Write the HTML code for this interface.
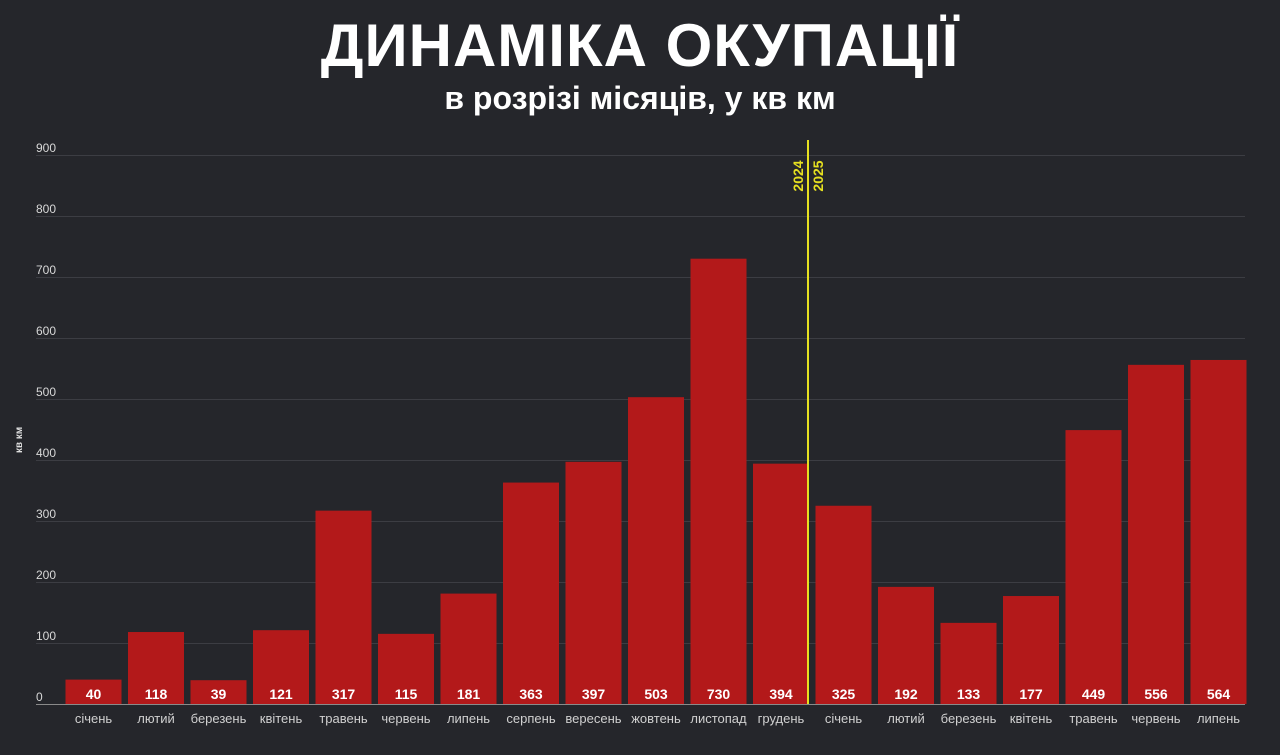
<!DOCTYPE html>
<html><head><meta charset="utf-8"><style>
html,body{margin:0;padding:0;background:#25262b;}
body{width:1280px;height:755px;position:relative;overflow:hidden;font-family:"Liberation Sans","DejaVu Sans",sans-serif;}
.t{position:absolute;left:0;width:1280px;text-align:center;color:#fff;font-weight:bold;}
</style></head><body>
<div class="t" style="top:10px;font-size:60px;letter-spacing:1px;line-height:72px;">ДИНАМІКА ОКУПАЦІЇ</div>
<div class="t" style="top:79px;font-size:32px;line-height:38px;">в розрізі місяців, у кв км</div>
<svg width="1280" height="755" style="position:absolute;left:0;top:0" font-family="Liberation Sans, sans-serif">
<g stroke="#3c3d43" stroke-width="1">
<line x1="36" x2="1245" y1="155.5" y2="155.5"/><line x1="36" x2="1245" y1="216.5" y2="216.5"/>
<line x1="36" x2="1245" y1="277.5" y2="277.5"/><line x1="36" x2="1245" y1="338.5" y2="338.5"/>
<line x1="36" x2="1245" y1="399.5" y2="399.5"/><line x1="36" x2="1245" y1="460.5" y2="460.5"/>
<line x1="36" x2="1245" y1="521.5" y2="521.5"/><line x1="36" x2="1245" y1="582.5" y2="582.5"/>
<line x1="36" x2="1245" y1="643.5" y2="643.5"/>
</g>
<g fill="#d8d8d8" font-size="12">
<text x="36" y="152">900</text><text x="36" y="213">800</text><text x="36" y="274">700</text>
<text x="36" y="335">600</text><text x="36" y="396">500</text><text x="36" y="457">400</text>
<text x="36" y="518">300</text><text x="36" y="579">200</text><text x="36" y="640">100</text>
<text x="36" y="701">0</text>
</g>
<text transform="translate(22,440) rotate(-90)" fill="#e0e0e0" font-size="10" font-weight="bold" text-anchor="middle">кв км</text>
<g id="bars" fill="#b3191a"></g>
<line x1="36" x2="1245" y1="704.5" y2="704.5" stroke="#8a8a8a" stroke-width="1"/>
<line x1="808" x2="808" y1="140" y2="704" stroke="#e6e020" stroke-width="2"/>
<text transform="translate(803,176) rotate(-90)" fill="#e6e020" font-size="14" font-weight="bold" text-anchor="middle">2024</text>
<text transform="translate(823,176) rotate(-90)" fill="#e6e020" font-size="14" font-weight="bold" text-anchor="middle">2025</text>
<g id="vals" fill="#fff" font-size="14" font-weight="bold" text-anchor="middle"></g>
<g id="mons" fill="#d0d0d0" font-size="13" text-anchor="middle"></g>
</svg>
<script>
var v=[40,118,39,121,317,115,181,363,397,503,730,394,325,192,133,177,449,556,564];
var m=["січень","лютий","березень","квітень","травень","червень","липень","серпень","вересень","жовтень","листопад","грудень","січень","лютий","березень","квітень","травень","червень","липень"];
var ns="http://www.w3.org/2000/svg",b=document.getElementById("bars"),vl=document.getElementById("vals"),mo=document.getElementById("mons");
for(var i=0;i<19;i++){var cx=93.5+i*62.5,h=v[i]*0.61;
var r=document.createElementNS(ns,"rect");r.setAttribute("x",cx-28);r.setAttribute("width",56);r.setAttribute("y",704-h);r.setAttribute("height",h);b.appendChild(r);
var t=document.createElementNS(ns,"text");t.setAttribute("x",cx);t.setAttribute("y",699);t.textContent=v[i];vl.appendChild(t);
var u=document.createElementNS(ns,"text");u.setAttribute("x",cx);u.setAttribute("y",723);u.textContent=m[i];mo.appendChild(u);}
</script>
</body></html>
